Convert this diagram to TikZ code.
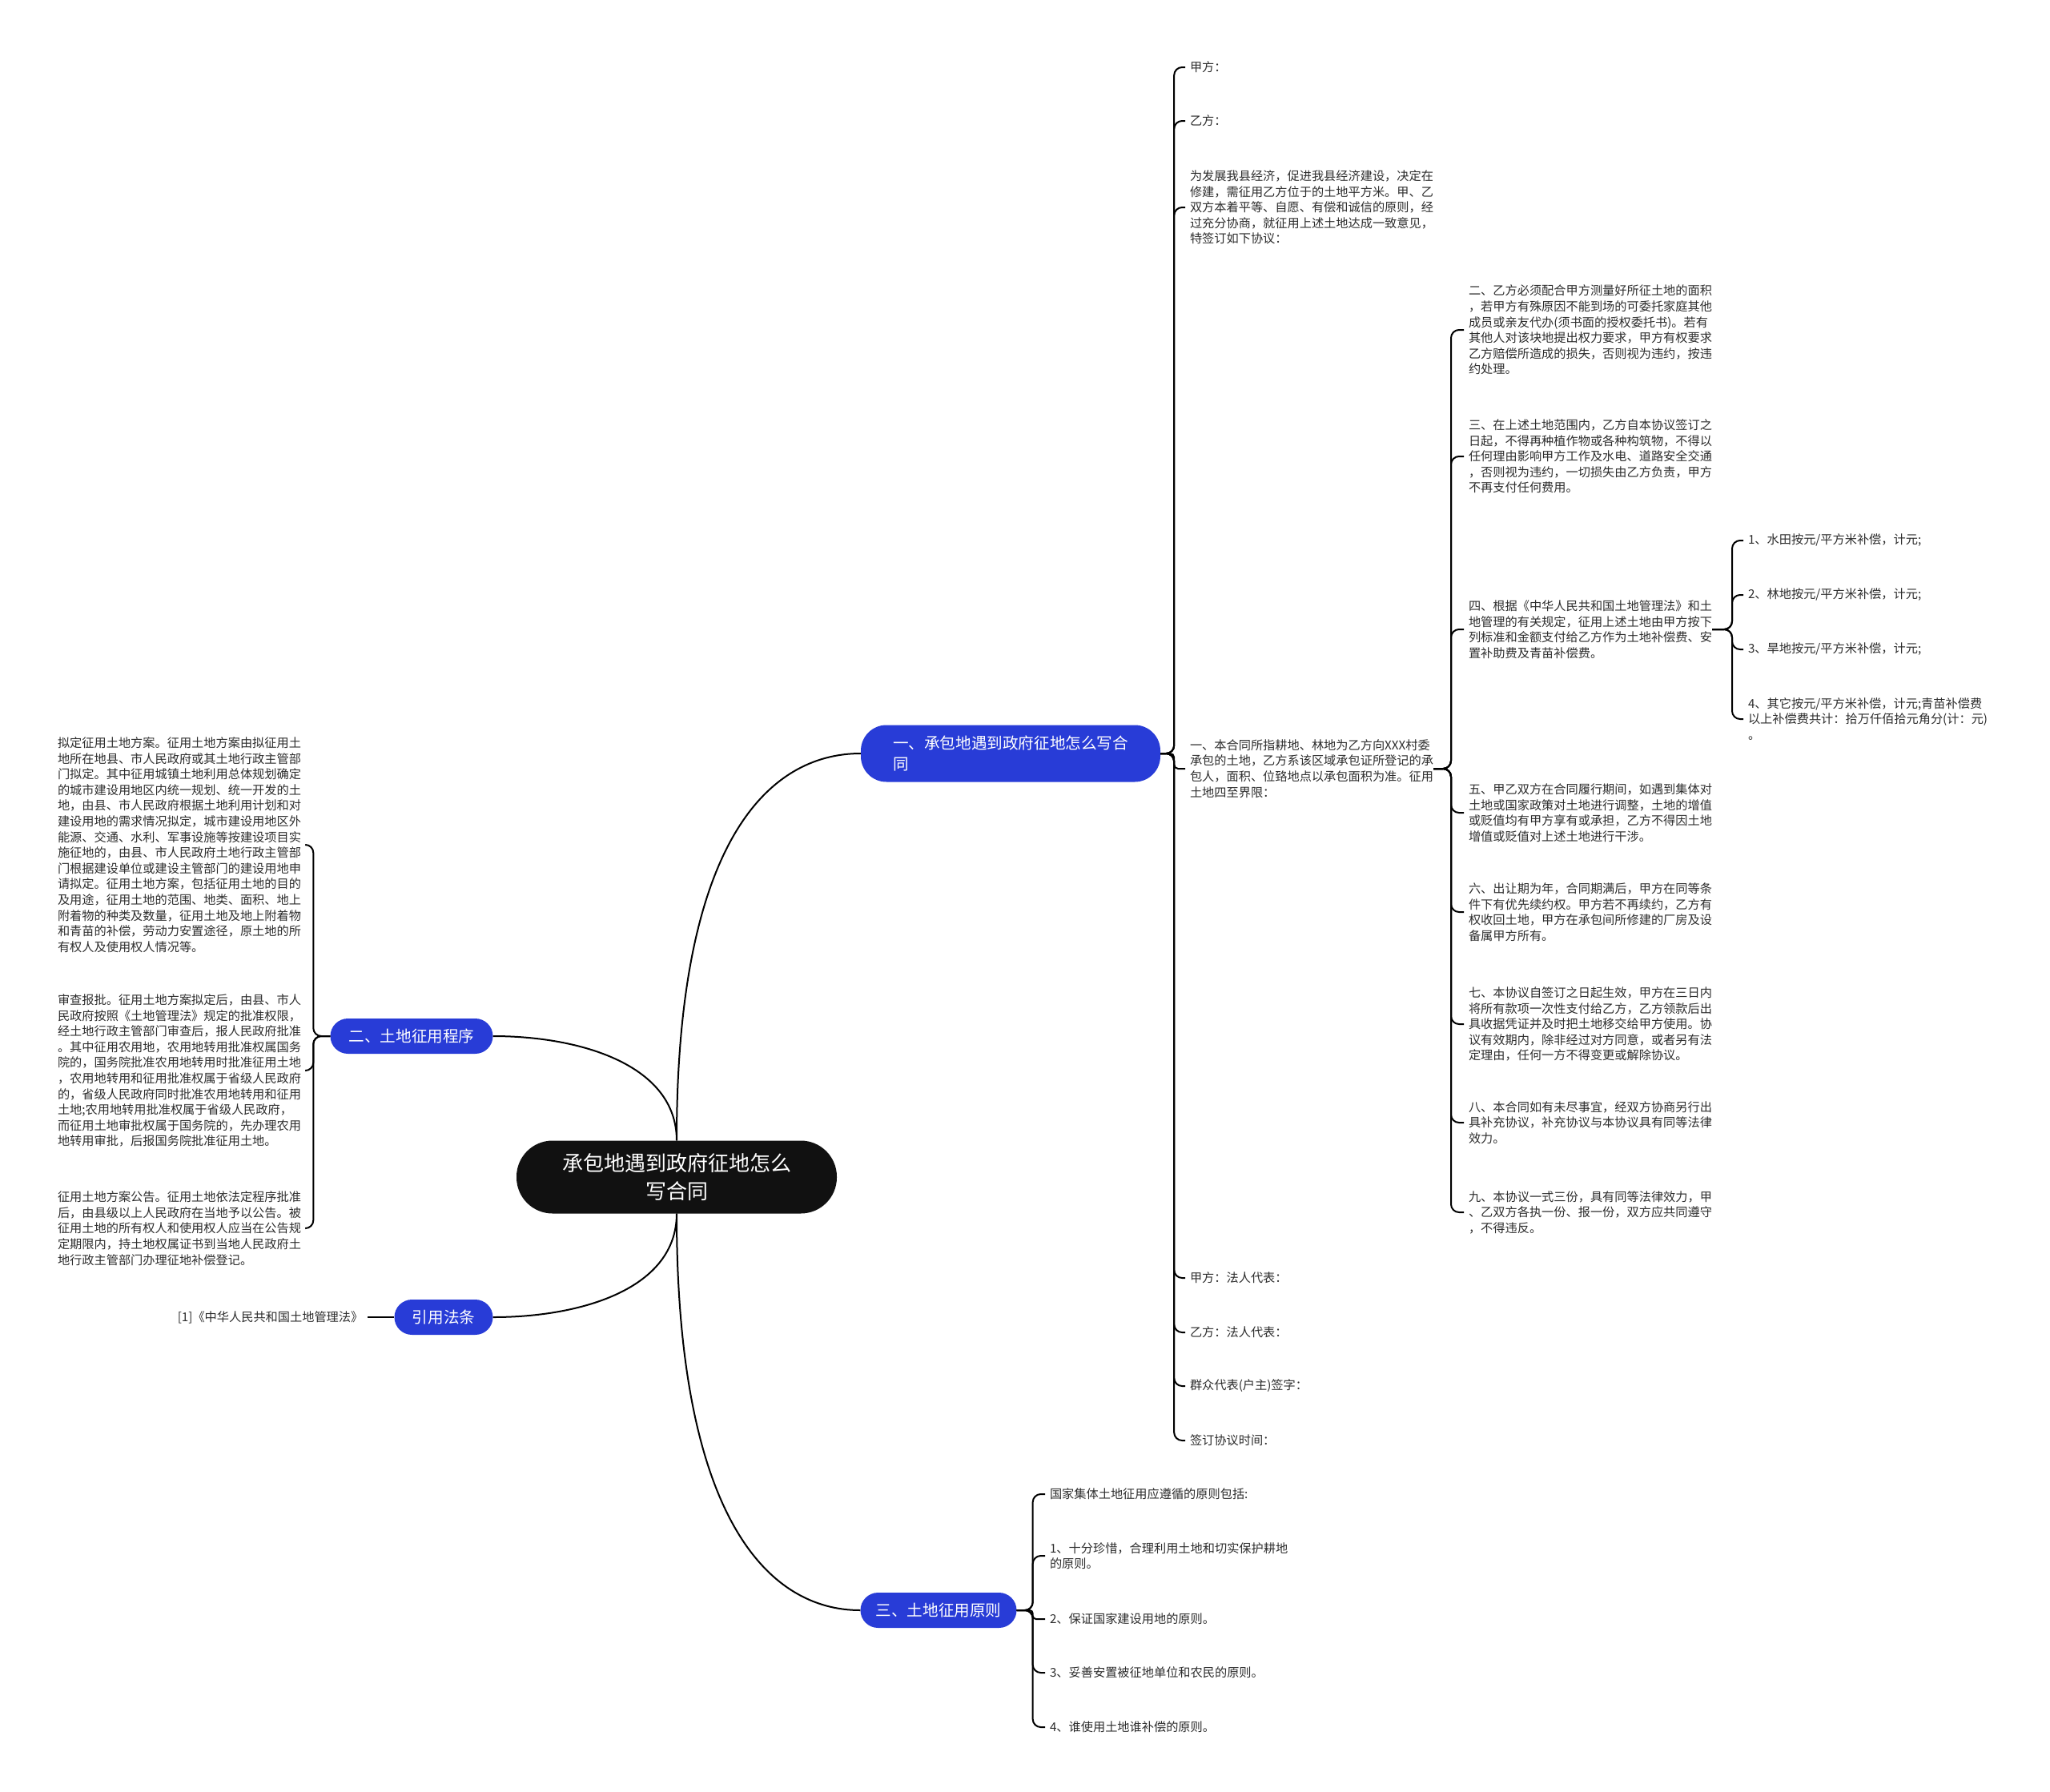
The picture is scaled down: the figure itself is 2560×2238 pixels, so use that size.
\documentclass[tikz,border=0pt]{standalone}
\usepackage{fontspec}
\newfontfamily\cjk{Noto Sans CJK SC}
\usetikzlibrary{positioning}
\definecolor{branchblue}{RGB}{40,60,215}
\definecolor{rootblack}{RGB}{17,17,17}
\definecolor{leafgray}{RGB}{45,45,45}

\begin{document}
\begin{tikzpicture}[
        x = 1pt,
        y = -1pt,
        root/.style = {
            fill = rootblack,
            text = white,
            rounded corners = 45pt,
            minimum width = 400pt,
            minimum height = 91pt,
            align = center,
            font = \cjk\fontsize{26}{35}\selectfont
        },
        branch/.style = {
            fill = branchblue,
            text = white,
            rounded corners = 22pt,
            minimum width = #1,
            minimum height = 44pt,
            inner xsep = 18pt,
            align = left,
            font = \cjk\fontsize{19.6}{26}\selectfont
        },
        branch/.default = 200pt,
        leaf/.style = {
            text = leafgray,
            align = left,
            inner sep = 0pt,
            outer sep = 0pt,
            font = \cjk\fontsize{15.2}{19.6}\selectfont
        },
        link/.style = {
            line width = 2pt,
            rounded corners = #1,
            shorten > = 6pt
        },
        link/.default = 10pt
        ]
%
        \fill[white] (0,0) rectangle (2560,2238);
        \useasboundingbox (0,0) rectangle (2560,2238);
%
        \node[root] (root) at (845,1470) {承包地遇到政府征地怎么\\写合同};
%
        \node[branch=374pt, minimum height=71pt, rounded corners=32pt] (b1) at (1262,941) {一、承包地遇到政府征地怎么写合\\同};
        \node[branch=203pt] (b2) at (514,1294) {二、土地征用程序};
        \node[branch=123pt] (b4) at (554,1645) {引用法条};
        \node[branch=195pt] (b3) at (1172,2011) {三、土地征用原则};
%
        \draw[line width=2pt] (root.north) .. controls +(0,-374) and +(-115,0) .. (b1.west);
        \draw[line width=2pt] (root.south) .. controls +(0,380) and +(-115,0) .. (b3.west);
        \draw[line width=2pt] (root.north) .. controls +(0,-94) and +(110,0) .. (b2.east);
        \draw[line width=2pt] (root.south) .. controls +(0,94) and +(110,0) .. (b4.east);
%
% 一
        \node[leaf, anchor=west] (a1) at (1486,84) {甲方：};
        \node[leaf, anchor=west] (a2) at (1486,151) {乙方：};
        \node[leaf, anchor=west] (a3) at (1486,259) {为发展我县经济，促进我县经济建设，决定在\\修建，需征用乙方位于的土地平方米。甲、乙\\双方本着平等、自愿、有偿和诚信的原则，经\\过充分协商，就征用上述土地达成一致意见，\\特签订如下协议：};
        \node[leaf, anchor=west] (a4) at (1486,960) {一、本合同所指耕地、林地为乙方向XXX村委\\承包的土地，乙方系该区域承包证所登记的承\\包人，面积、位臵地点以承包面积为准。征用\\土地四至界限：};
        \node[leaf, anchor=west] (a5) at (1486,1596) {甲方：法人代表：};
        \node[leaf, anchor=west] (a6) at (1486,1664) {乙方：法人代表：};
        \node[leaf, anchor=west] (a7) at (1486,1731) {群众代表(户主)签字：};
        \node[leaf, anchor=west] (a8) at (1486,1799) {签订协议时间：};
%
        \draw[link] (b1.east) -- ++(17,0) |- (a1.west);
        \draw[link] (b1.east) -- ++(17,0) |- (a2.west);
        \draw[link] (b1.east) -- ++(17,0) |- (a3.west);
        \draw[link=5pt] (b1.east) -- ++(17,0) |- (a4.west);
        \draw[link] (b1.east) -- ++(17,0) |- (a5.west);
        \draw[link] (b1.east) -- ++(17,0) |- (a6.west);
        \draw[link] (b1.east) -- ++(17,0) |- (a7.west);
        \draw[link] (b1.east) -- ++(17,0) |- (a8.west);
%
        \node[leaf, anchor=west] (c2) at (1834,412) {二、乙方必须配合甲方测量好所征土地的面积\\，若甲方有殊原因不能到场的可委托家庭其他\\成员或亲友代办(须书面的授权委托书)。若有\\其他人对该块地提出权力要求，甲方有权要求\\乙方赔偿所造成的损失，否则视为违约，按违\\约处理。};
        \node[leaf, anchor=west] (c3) at (1834,570) {三、在上述土地范围内，乙方自本协议签订之\\日起，不得再种植作物或各种构筑物，不得以\\任何理由影响甲方工作及水电、道路安全交通\\，否则视为违约，一切损失由乙方负责，甲方\\不再支付任何费用。};
        \node[leaf, anchor=west] (c4) at (1834,786) {四、根据《中华人民共和国土地管理法》和土\\地管理的有关规定，征用上述土地由甲方按下\\列标准和金额支付给乙方作为土地补偿费、安\\置补助费及青苗补偿费。};
        \node[leaf, anchor=west] (c5) at (1834,1015) {五、甲乙双方在合同履行期间，如遇到集体对\\土地或国家政策对土地进行调整，土地的增值\\或贬值均有甲方享有或承担，乙方不得因土地\\增值或贬值对上述土地进行干涉。};
        \node[leaf, anchor=west] (c6) at (1834,1139) {六、出让期为年，合同期满后，甲方在同等条\\件下有优先续约权。甲方若不再续约，乙方有\\权收回土地，甲方在承包间所修建的厂房及设\\备属甲方所有。};
        \node[leaf, anchor=west] (c7) at (1834,1279) {七、本协议自签订之日起生效，甲方在三日内\\将所有款项一次性支付给乙方，乙方领款后出\\具收据凭证并及时把土地移交给甲方使用。协\\议有效期内，除非经过对方同意，或者另有法\\定理由，任何一方不得变更或解除协议。};
        \node[leaf, anchor=west] (c8) at (1834,1402) {八、本合同如有未尽事宜，经双方协商另行出\\具补充协议，补充协议与本协议具有同等法律\\效力。};
        \node[leaf, anchor=west] (c9) at (1834,1514) {九、本协议一式三份，具有同等法律效力，甲\\、乙双方各执一份、报一份，双方应共同遵守\\，不得违反。};
%
        \draw[link] (a4.east) -- ++(22,0) |- (c2.west);
        \draw[link] (a4.east) -- ++(22,0) |- (c3.west);
        \draw[link] (a4.east) -- ++(22,0) |- (c4.west);
        \draw[link] (a4.east) -- ++(22,0) |- (c5.west);
        \draw[link] (a4.east) -- ++(22,0) |- (c6.west);
        \draw[link] (a4.east) -- ++(22,0) |- (c7.west);
        \draw[link] (a4.east) -- ++(22,0) |- (c8.west);
        \draw[link] (a4.east) -- ++(22,0) |- (c9.west);
%
        \node[leaf, anchor=west] (d1) at (2183,675) {1、水田按元/平方米补偿，计元;};
        \node[leaf, anchor=west] (d2) at (2183,743) {2、林地按元/平方米补偿，计元;};
        \node[leaf, anchor=west] (d3) at (2183,811) {3、旱地按元/平方米补偿，计元;};
        \node[leaf, anchor=west] (d4) at (2183,898) {4、其它按元/平方米补偿，计元;青苗补偿费\\以上补偿费共计：拾万仟佰拾元角分(计：元)\\。};
%
        \draw[link] (c4.east) -- ++(25,0) |- (d1.west);
        \draw[link] (c4.east) -- ++(25,0) |- (d2.west);
        \draw[link] (c4.east) -- ++(25,0) |- (d3.west);
        \draw[link] (c4.east) -- ++(25,0) |- (d4.west);
%
% 二
        \node[leaf, anchor=west] (l1) at (72,1055) {拟定征用土地方案。征用土地方案由拟征用土\\地所在地县、市人民政府或其土地行政主管部\\门拟定。其中征用城镇土地利用总体规划确定\\的城市建设用地区内统一规划、统一开发的土\\地，由县、市人民政府根据土地利用计划和对\\建设用地的需求情况拟定，城市建设用地区外\\能源、交通、水利、军事设施等按建设项目实\\施征地的，由县、市人民政府土地行政主管部\\门根据建设单位或建设主管部门的建设用地申\\请拟定。征用土地方案，包括征用土地的目的\\及用途，征用土地的范围、地类、面积、地上\\附着物的种类及数量，征用土地及地上附着物\\和青苗的补偿，劳动力安置途径，原土地的所\\有权人及使用权人情况等。};
        \node[leaf, anchor=west] (l2) at (72,1337) {审查报批。征用土地方案拟定后，由县、市人\\民政府按照《土地管理法》规定的批准权限，\\经土地行政主管部门审查后，报人民政府批准\\。其中征用农用地，农用地转用批准权属国务\\院的，国务院批准农用地转用时批准征用土地\\，农用地转用和征用批准权属于省级人民政府\\的，省级人民政府同时批准农用地转用和征用\\土地;农用地转用批准权属于省级人民政府，\\而征用土地审批权属于国务院的，先办理农用\\地转用审批，后报国务院批准征用土地。};
        \node[leaf, anchor=west] (l3) at (72,1534) {征用土地方案公告。征用土地依法定程序批准\\后，由县级以上人民政府在当地予以公告。被\\征用土地的所有权人和使用权人应当在公告规\\定期限内，持土地权属证书到当地人民政府土\\地行政主管部门办理征地补偿登记。};
%
        \draw[link] (b2.west) -- ++(-21,0) |- (l1.east);
        \draw[link] (b2.west) -- ++(-21,0) |- (l2.east);
        \draw[link] (b2.west) -- ++(-21,0) |- (l3.east);
%
% 引用法条
        \node[leaf, left=39pt of b4] (r1) {[1]《中华人民共和国土地管理法》};
        \draw[link] (b4.west) -- (r1.east);
%
% 三
        \node[leaf, anchor=west] (p0) at (1311,1866) {国家集体土地征用应遵循的原则包括:};
        \node[leaf, anchor=west] (p1) at (1311,1943) {1、十分珍惜，合理利用土地和切实保护耕地\\的原则。};
        \node[leaf, anchor=west] (p2) at (1311,2022) {2、保证国家建设用地的原则。};
        \node[leaf, anchor=west] (p3) at (1311,2089) {3、妥善安置被征地单位和农民的原则。};
        \node[leaf, anchor=west] (p4) at (1311,2157) {4、谁使用土地谁补偿的原则。};
%
        \draw[link] (b3.east) -- ++(20,0) |- (p0.west);
        \draw[link] (b3.east) -- ++(20,0) |- (p1.west);
        \draw[link=4pt] (b3.east) -- ++(20,0) |- (p2.west);
        \draw[link] (b3.east) -- ++(20,0) |- (p3.west);
        \draw[link] (b3.east) -- ++(20,0) |- (p4.west);
%
    \end{tikzpicture}
\end{document}
